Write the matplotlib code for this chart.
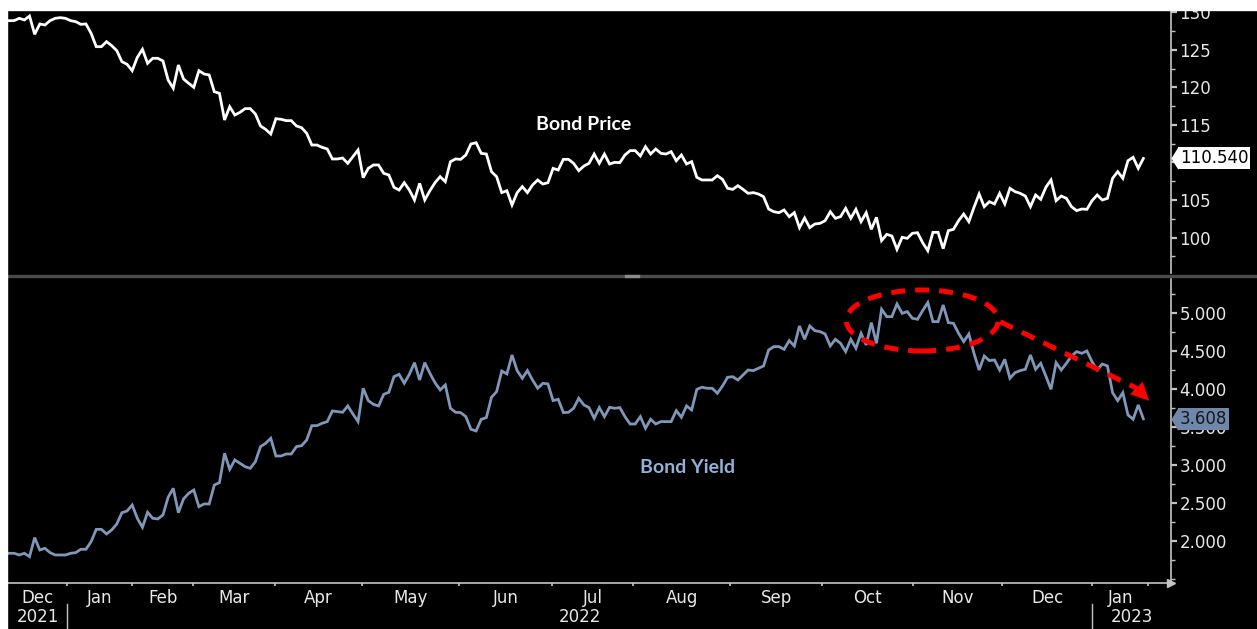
import numpy as np
import matplotlib
matplotlib.use("Agg")
import matplotlib.pyplot as plt
import matplotlib.transforms as mtransforms
from matplotlib.patches import Ellipse, Rectangle
from matplotlib.lines import Line2D
from matplotlib.ticker import AutoMinorLocator, FormatStrFormatter, FuncFormatter

# bond price (daily closes)
price = [
    128.91, 128.91, 129.22, 129.0, 129.53, 127.09, 128.47, 128.33, 128.91, 129.22,
    129.31, 129.22, 128.91, 128.78, 128.42, 128.47, 127.22, 125.44, 125.44, 126.11,
    125.58, 124.91, 123.44, 123.09, 122.24, 124.02, 125.09, 123.22, 123.89, 123.89,
    123.53, 121.0, 119.89, 123.0, 121.13, 120.56, 120.02, 122.24, 121.8, 121.67,
    119.44, 119.22, 115.67, 117.44, 116.33, 116.69, 117.18, 117.18, 116.47, 114.87,
    114.42, 113.8, 115.84, 115.76, 115.58, 115.58, 114.87, 114.64, 113.89, 112.33,
    112.33, 112.02, 111.8, 110.47, 110.47, 110.6, 109.89, 110.78, 111.67, 107.98,
    109.22, 109.67, 109.67, 108.56, 108.33, 106.69, 106.33, 107.31, 106.33, 105.0,
    107.22, 105.0, 106.24, 107.31, 108.11, 107.44, 110.11, 110.47, 110.42, 111.0,
    112.47, 112.64, 111.22, 111.13, 108.78, 108.11, 105.98, 106.24, 104.33, 105.98,
    106.78, 105.98, 107.0, 107.67, 107.13, 107.31, 109.22, 109.0, 110.42, 110.42,
    109.89,
    108.91, 109.53, 109.89, 111.13, 109.89, 111.13, 109.8, 110.02, 109.98, 111.0,
    111.58, 111.58, 110.87, 112.11, 111.13, 111.8, 111.22, 111.13, 111.44, 110.24,
    111.0, 109.8, 110.11, 108.02, 107.67, 107.67, 107.67, 108.24, 107.76, 106.56,
    106.42, 106.91, 106.42, 105.89, 105.98, 105.8, 105.44, 103.8, 103.44, 103.31,
    103.67, 102.78, 103.31, 101.31, 102.6, 101.31, 101.8, 101.89, 102.24, 103.44,
    102.56, 102.78, 103.89, 102.56, 103.76, 102.11, 103.31, 101.09, 102.69, 99.58,
    100.42, 100.2, 98.42, 100.02, 99.89, 100.56, 100.64, 99.31, 98.24, 100.69,
    100.69, 98.51, 100.91, 101.09, 102.24, 103.13, 102.11, 104.02, 105.8, 104.11,
    104.78, 104.47, 105.89, 104.47, 106.56, 106.11, 105.89, 105.53, 104.11, 105.67,
    105.09, 106.69, 107.67, 104.91, 105.53, 105.22, 104.11, 103.58, 103.8, 103.76,
    104.91, 105.67, 105.0, 105.22, 107.89, 108.78, 107.89, 110.24, 110.69, 109.22,
    110.54,
]

# bond yield (%)
yld = [
    1.834, 1.834, 1.812, 1.834, 1.790, 2.041, 1.878, 1.900, 1.843, 1.812,
    1.812, 1.812, 1.834, 1.843, 1.887, 1.887, 1.988, 2.150, 2.150, 2.089,
    2.142, 2.221, 2.370, 2.392, 2.471, 2.296, 2.177, 2.375, 2.296, 2.287,
    2.340, 2.573, 2.691, 2.370, 2.551, 2.625, 2.669, 2.449, 2.485, 2.485,
    2.735, 2.766, 3.153, 2.942, 3.065, 3.021, 2.977, 2.955, 3.043, 3.241,
    3.285, 3.351, 3.118, 3.118, 3.144, 3.144, 3.241, 3.254, 3.329, 3.518,
    3.518, 3.549, 3.571, 3.712, 3.703, 3.694, 3.778, 3.672, 3.571, 4.011,
    3.848, 3.799, 3.778, 3.931, 3.958, 4.164, 4.195, 4.077, 4.195, 4.349,
    4.120, 4.349, 4.208, 4.085, 3.989, 4.055, 3.747, 3.694, 3.690, 3.637,
    3.470, 3.448, 3.602, 3.624, 3.892, 3.967, 4.239, 4.200, 4.450, 4.244,
    4.142, 4.244, 4.120, 4.011, 4.077, 4.068, 3.848, 3.865, 3.690, 3.694,
    3.747,
    3.879, 3.791, 3.756, 3.615, 3.756, 3.637, 3.760, 3.747, 3.756, 3.637,
    3.540, 3.540, 3.637, 3.483, 3.602, 3.540, 3.571, 3.571, 3.571, 3.716,
    3.628, 3.778, 3.725, 3.997, 4.024, 4.011, 4.011, 3.945, 4.041, 4.156,
    4.164, 4.120, 4.186, 4.252, 4.244, 4.274, 4.305, 4.516, 4.560, 4.560,
    4.525, 4.639, 4.569, 4.833, 4.657, 4.833, 4.771, 4.758, 4.727, 4.569,
    4.657, 4.604, 4.494, 4.657, 4.538, 4.736, 4.582, 4.877, 4.604, 5.053,
    4.956, 4.956, 5.123, 5.0, 5.022, 4.934, 4.921, 5.035, 5.141, 4.890,
    4.890, 5.110, 4.877, 4.868, 4.736, 4.626, 4.727, 4.472, 4.252, 4.437,
    4.376, 4.384, 4.252, 4.393, 4.142, 4.217, 4.244, 4.261, 4.450, 4.261,
    4.340, 4.173, 3.997, 4.349, 4.252, 4.340, 4.437, 4.494, 4.472, 4.503,
    4.362, 4.252, 4.331, 4.305, 3.953, 3.848, 3.953, 3.659, 3.602, 3.791,
    3.608,
]

# x axis in trading sessions since the first point
last_session = 283.6
month_edges = [14.5, 30.8, 46.0, 66.5, 88.3, 112.5, 135.8, 156.0,
               180.3, 203.3, 226.0, 248.3, 270.8, 284.8]
month_names = ["Dec", "Jan", "Feb", "Mar", "Apr", "May", "Jun", "Jul",
               "Aug", "Sep", "Oct", "Nov", "Dec", "Jan"]
year_names = ["2021", "2022", "2023"]
year_edges = [14.5, 270.8]

last_price_label = "110.540"
last_yield_label = "3.608"

XMIN, XMAX = -0.25, 290.5
FG = "#e8e8e8"
AXC = "#c4c4c4"
YCOL = "#7f97b9"
TAGC = "#6f88aa"
RED = "#ff0000"

fig = plt.figure(figsize=(12.57, 6.29), dpi=100, facecolor="black")
ax1 = fig.add_axes([0.00636, 0.566, 0.9252, 0.4181])
ax2 = fig.add_axes([0.00636, 0.0731, 0.9252, 0.4833])

x_p = np.linspace(0, last_session, len(price))
x_y = np.linspace(0, last_session, len(yld))

ax1.plot(x_p, price, color="white", lw=2.0, solid_joinstyle="miter")
ax2.plot(x_y, yld, color=YCOL, lw=2.0, solid_joinstyle="miter")

for ax in (ax1, ax2):
    ax.set_facecolor("black")
    ax.set_xlim(XMIN, XMAX)
    for s in ("top", "left"):
        ax.spines[s].set_visible(False)
    ax.spines["right"].set_color(AXC)
    ax.spines["right"].set_linewidth(1.2)
    ax.yaxis.tick_right()
    ax.yaxis.set_minor_locator(AutoMinorLocator(2))
    ax.tick_params(axis="y", which="major", direction="out", length=4, width=1.6,
                   color=AXC, labelcolor=FG, labelsize=12, pad=2)
    ax.tick_params(axis="y", which="minor", direction="out", length=3, width=1,
                   color=AXC)

ax1.spines["bottom"].set_visible(False)
ax1.tick_params(axis="x", bottom=False, labelbottom=False)
ax1.set_ylim(95.27, 130.33)
ax1.set_yticks(np.arange(100, 131, 5))
# the 110 label sits under the last-price tag
ax1.yaxis.set_major_formatter(FuncFormatter(lambda v, p: "" if abs(v - 110) < 0.1 else "%d" % v))

ax2.spines["bottom"].set_color(AXC)
ax2.spines["bottom"].set_linewidth(1.2)
ax2.set_ylim(1.442, 5.452)
ax2.set_yticks(np.arange(2.0, 5.01, 0.5))
ax2.yaxis.set_major_formatter(FormatStrFormatter("%.3f"))

# month boundaries as ticks, names centred between them
centers = [(a + b) / 2 for a, b in zip([XMIN] + month_edges[:-1], month_edges)]
ax2.set_xticks(month_edges)
ax2.set_xticklabels([])
ax2.set_xticks(centers, minor=True)
ax2.set_xticklabels(month_names, minor=True)
ax2.tick_params(axis="x", which="major", direction="out", length=2.5, width=1.2, color=AXC)
ax2.tick_params(axis="x", which="minor", length=0, labelcolor=FG, labelsize=12, pad=4)
ax2.plot([1.0], [0.0], marker=">", ms=6, color=AXC, transform=ax2.transAxes, clip_on=False)

# years under the months, with separators
xb = mtransforms.blended_transform_factory(ax2.transData, ax2.transAxes)
bounds = [XMIN] + year_edges + [XMAX]
for name, a, b in zip(year_names, bounds[:-1], bounds[1:]):
    ax2.text((a + b) / 2, -0.112, name, transform=xb, ha="center", va="center",
             color=FG, fontsize=12)
for e in year_edges:
    ax2.add_line(Line2D([e, e], [-0.069, -0.16], transform=xb, color=AXC, lw=1,
                        clip_on=False))

# series names
ax1.text(143.75, 115.0, "Bond Price", color="white", fontsize=14, fontweight="bold",
         family="Lato", ha="center", va="center")
ax2.text(169.75, 2.972, "Bond Yield", color="#92b1d9", fontsize=14, fontweight="bold",
         family="Lato", ha="center", va="center")

# last value tags on the right axis
for ax, val, txt, fc, tc in [(ax1, price[-1], last_price_label, "white", "black"),
                             (ax2, yld[-1], last_yield_label, TAGC, "#15151f")]:
    tr = mtransforms.blended_transform_factory(ax.transAxes, ax.transData)
    ax.annotate(txt, xy=(1.0, val), xycoords=tr, xytext=(6.5, 0), textcoords="offset points",
                ha="left", va="center", fontsize=12, color=tc, annotation_clip=False,
                bbox=dict(boxstyle="square,pad=0.12", fc=fc, ec="none"), zorder=6)
    ax.plot([1.0062], [val], marker=[(-0.62, 0), (0, 1), (0, -1), (-0.62, 0)], ms=16.5,
            mew=0, color=fc, transform=tr, clip_on=False, zorder=6)

# red dashed highlight of the yield peak and the arrow after it
ax2.add_patch(Ellipse((228.3, 4.905), 38, 0.805, fill=False, ec=RED, lw=3.6,
                      ls=(0, (2.8, 2.0)), zorder=4))
ax2.plot([247.8, 282.0], [4.889, 4.01], color=RED, lw=3.6, ls=(0, (2.8, 2.0)), zorder=4)
ax2.annotate("", xy=(285.5, 3.82), xytext=(281.0, 4.06),
             arrowprops=dict(arrowstyle="-|>,head_length=0.8,head_width=0.4",
                             color=RED, lw=0.1, mutation_scale=16), zorder=4)

# panel divider and window frame
Hf = 629.0
Wf = 1257.0
fig.add_artist(Line2D([8 / Wf, 1.0], [1 - 275.5 / Hf] * 2, color="#4a4a4a", lw=2.4))
fig.add_artist(Line2D([626 / Wf, 638 / Wf], [1 - 275.5 / Hf] * 2, color="#8c8c8c", lw=2.4))
fig.add_artist(Rectangle((0, 1 - 10 / Hf), 1, 10 / Hf, transform=fig.transFigure,
                         color="white", zorder=10))
fig.add_artist(Rectangle((0, 0), 7 / Wf, 1, transform=fig.transFigure,
                         color="white", zorder=10))

fig.savefig("out.png", dpi=100, facecolor="black")
